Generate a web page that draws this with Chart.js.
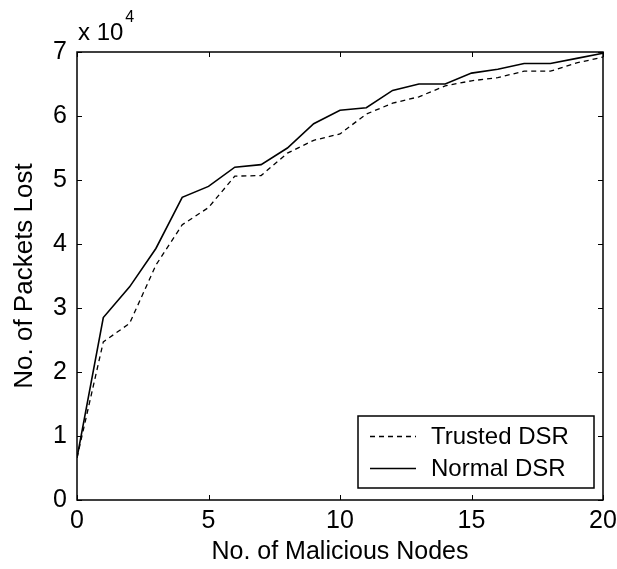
<!DOCTYPE html>
<html>
<head>
<meta charset="utf-8">
<script src="https://cdn.jsdelivr.net/npm/chart.js@4/dist/chart.umd.min.js"></script>
<style>
  html, body { margin: 0; padding: 0; background: #fff; }
  #wrap { width: 617px; height: 569px; position: relative; }
</style>
</head>
<body>
<div id="wrap"><canvas id="c" width="617" height="569"></canvas></div>
<script>
// Data
const maliciousNodes = [0,1,2,3,4,5,6,7,8,9,10,11,12,13,14,15,16,17,18,19,20];
const trustedDSR = [6600,24700,27600,36700,43000,45700,50600,50700,54200,56200,57200,60300,62000,63000,64700,65500,66000,67000,67000,68300,69200];
const normalDSR  = [6600,28500,33300,39300,47300,49000,52000,52400,55000,58800,60900,61300,64000,65000,65000,66700,67300,68200,68200,69000,69800];
const xTicks = [0,5,10,15,20];
const yTicks = [0,10000,20000,30000,40000,50000,60000,70000];
const seriesLabels = ['Trusted DSR','Normal DSR'];

const FONT = "'Liberation Sans', Arial, sans-serif";

const framePlugin = {
  id: 'frame',
  afterDatasetsDraw(chart) {
    const ctx = chart.ctx;
    const a = chart.chartArea;
    const xs = chart.scales.x, ys = chart.scales.y;
    ctx.save();
    ctx.strokeStyle = '#000';
    ctx.lineWidth = 1.5;
    ctx.setLineDash([]);
    ctx.strokeRect(a.left, a.top, a.right - a.left, a.bottom - a.top);
    const tl = 5;
    ctx.lineWidth = 1;
    ctx.beginPath();
    xTicks.forEach(v => {
      const px = Math.round(xs.getPixelForValue(v)) + 0.5;
      ctx.moveTo(px, a.bottom); ctx.lineTo(px, a.bottom - tl);
      ctx.moveTo(px, a.top); ctx.lineTo(px, a.top + tl);
    });
    yTicks.forEach(v => {
      const py = Math.round(ys.getPixelForValue(v)) + 0.5;
      ctx.moveTo(a.left, py); ctx.lineTo(a.left + tl, py);
      ctx.moveTo(a.right, py); ctx.lineTo(a.right - tl, py);
    });
    ctx.stroke();

    // exponent label
    ctx.fillStyle = '#000';
    ctx.textBaseline = 'alphabetic';
    ctx.textAlign = 'left';
    ctx.font = '24px ' + FONT;
    ctx.fillText('x 10', a.left + 1, a.top - 12);
    const w = ctx.measureText('x 10').width;
    ctx.font = '16px ' + FONT;
    ctx.fillText('4', a.left + 1 + w + 2, a.top - 30);

    // legend box
    const lx = 358, ly = 416, lw = 236, lh = 72;
    ctx.fillStyle = '#fff';
    ctx.fillRect(lx, ly, lw, lh);
    ctx.strokeStyle = '#000';
    ctx.lineWidth = 1.5;
    ctx.strokeRect(lx, ly, lw, lh);
    const rows = [436, 468];
    chart.data.datasets.forEach((ds, i) => {
      ctx.beginPath();
      ctx.lineWidth = 1.3;
      ctx.setLineDash(ds.borderDash || []);
      ctx.moveTo(370, rows[i] + 0.5);
      ctx.lineTo(416, rows[i] + 0.5);
      ctx.stroke();
      ctx.setLineDash([]);
      ctx.fillStyle = '#000';
      ctx.font = '24px ' + FONT;
      ctx.textBaseline = 'middle';
      ctx.fillText(ds.label, 431, rows[i] + 1);
    });
    ctx.restore();
  }
};

new Chart(document.getElementById('c'), {
  type: 'line',
  data: {
    labels: maliciousNodes,
    datasets: [
      { label: seriesLabels[0], data: maliciousNodes.map((x,i)=>({x, y: trustedDSR[i]})),
        borderColor: '#000', borderWidth: 1.3, borderDash: [5,4], pointRadius: 0, tension: 0, fill: false },
      { label: seriesLabels[1], data: maliciousNodes.map((x,i)=>({x, y: normalDSR[i]})),
        borderColor: '#000', borderWidth: 1.6, pointRadius: 0, tension: 0, fill: false }
    ]
  },
  options: {
    responsive: false,
    animation: false,
    devicePixelRatio: 1,
    layout: { padding: { top: 52, right: 14, bottom: 0, left: 0 } },
    plugins: { legend: { display: false }, tooltip: { enabled: false } },
    scales: {
      x: {
        type: 'linear', min: 0, max: 20,
        afterBuildTicks: s => { s.ticks = xTicks.map(v => ({ value: v })); },
        afterFit: s => { s.height = 69; s.paddingLeft = 0; s.paddingRight = 0; },
        grid: { display: false, drawTicks: false },
        border: { display: false },
        ticks: { color: '#000', font: { family: FONT, size: 25 }, padding: 6, maxRotation: 0 },
        title: { display: true, text: 'No. of Malicious Nodes', color: '#000',
                 font: { family: FONT, size: 25 }, padding: { top: 0, bottom: 2 } }
      },
      y: {
        min: 0, max: 70000,
        afterBuildTicks: s => { s.ticks = yTicks.map(v => ({ value: v })); },
        afterFit: s => { s.width = 77; s.paddingTop = 0; s.paddingBottom = 0; },
        grid: { display: false, drawTicks: false },
        border: { display: false },
        ticks: { color: '#000', font: { family: FONT, size: 25 }, padding: 10,
                 callback: v => String(v / 10000) },
        title: { display: true, text: 'No. of Packets Lost', color: '#000',
                 font: { family: FONT, size: 26 }, padding: { top: 9, bottom: 0 } }
      }
    }
  },
  plugins: [framePlugin]
});
</script>
</body>
</html>
